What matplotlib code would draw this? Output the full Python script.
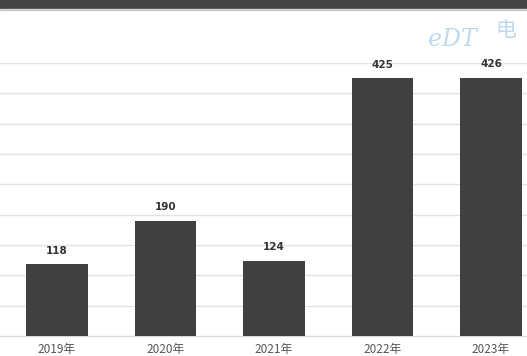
import matplotlib as mpl
import matplotlib.pyplot as plt
from matplotlib.patches import Rectangle

mpl.use('Agg')
plt.rcParams['font.family'] = ['Noto Sans CJK SC', 'DejaVu Sans']

years = ['2019年', '2020年', '2021年', '2022年', '2023年']
values = [118, 190, 124, 425, 426]

W, H = 527, 356
fig = plt.figure(figsize=(W / 100, H / 100), dpi=100)
fig.patch.set_facecolor('white')

# dark strip along the top edge
fig.patches.append(Rectangle((0, 1 - 8.5 / H), 1, 8.5 / H, transform=fig.transFigure,
                             color='#444444', zorder=0))
fig.patches.append(Rectangle((0, 1 - 10 / H), 1, 1.2 / H, transform=fig.transFigure,
                             color='#cccccc', zorder=0))

ax = fig.add_axes([0, 1 - 336 / H, 1, (336 - 63) / H])
x = list(range(len(years)))
ax.bar(x, values, width=0.57, color='#404040', zorder=3)

for xi, v in zip(x, values):
    ax.text(xi, v + 14, str(v), ha='center', va='bottom', fontsize=7.5,
            fontweight='bold', color='#333333', clip_on=False, family='DejaVu Sans')

ax.set_xlim(-57 / 108.5, (W - 57) / 108.5)
ax.set_ylim(0, 450)
ax.set_yticks(range(0, 451, 50))
ax.yaxis.grid(True, color='#e3e3e3', linewidth=1, zorder=0)
ax.tick_params(axis='y', left=False, labelleft=False)
ax.set_xticks(x)
ax.set_xticklabels(years, fontsize=8.5, color='#555555')
ax.tick_params(axis='x', length=0, pad=5)
for s in ['top', 'right', 'left']:
    ax.spines[s].set_visible(False)
ax.spines['bottom'].set_color('#d8d8d8')

# faint watermark
fig.text(452 / W, 1 - 40 / H, 'eDT', fontsize=17, color='#a9cbe8', alpha=0.75,
         ha='center', va='center', fontstyle='italic', family='DejaVu Serif')
fig.text(506 / W, 1 - 30 / H, '电', fontsize=15, color='#a9cbe8', alpha=0.75,
         ha='center', va='center')

fig.savefig('out.png', dpi=100)
